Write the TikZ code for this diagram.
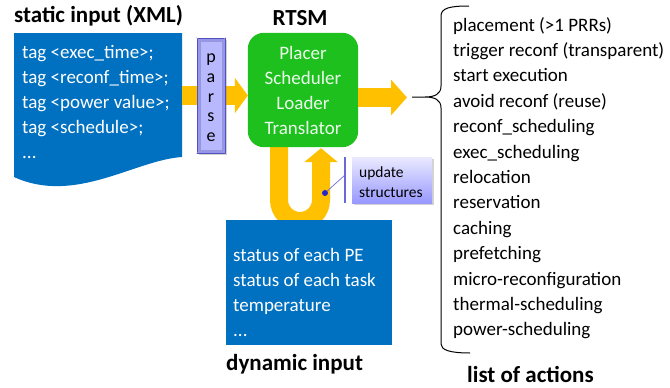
\documentclass[tikz,border=0pt]{standalone}
\usepackage{fontspec}
\setmainfont{Carlito}
\usetikzlibrary{arrows.meta,shadows,calc}
\definecolor{xmlblue}{RGB}{0,112,192}
\definecolor{flowyellow}{RGB}{255,192,0}
\definecolor{rtsmgreen}{RGB}{30,192,30}
\definecolor{rtsmtext}{RGB}{236,252,236}
\definecolor{lavlight}{RGB}{234,234,255}
\definecolor{lavdark}{RGB}{152,152,255}
\definecolor{lavmid}{RGB}{150,150,235}
\definecolor{lavinner}{RGB}{184,184,255}
\definecolor{lavedge}{RGB}{80,80,190}
\definecolor{calloutline}{RGB}{105,105,220}
\definecolor{calloutdot}{RGB}{40,40,200}
\begin{document}
\begin{tikzpicture}[x=1pt,y=-1pt,
  body/.style={font=\fontsize{19}{25}\selectfont, inner sep=0pt, anchor=base west},
  wline/.style={body, text=white},
  gline/.style={body, text=rtsmtext, anchor=base},
  ttl/.style={font=\fontsize{23}{28}\selectfont\bfseries, inner sep=0pt, anchor=base west},
  rtsmslot/.style={minimum width=110pt, minimum height=114pt, inner sep=0pt},
  dynbox/.style={fill=xmlblue, minimum width=166pt, minimum height=125pt, inner sep=0pt},
  parsebox/.style={fill=lavmid, draw=lavedge, line width=0.8pt, minimum width=28pt,
    minimum height=115pt, inner sep=0pt,
    drop shadow={opacity=0.35, shadow xshift=1.5pt, shadow yshift=-1.5pt}},
  updbox/.style={top color=lavlight, bottom color=lavdark, minimum width=80pt,
    minimum height=46pt, inner sep=0pt,
    drop shadow={opacity=0.35, shadow xshift=2pt, shadow yshift=-2pt}},
  brace/.style={draw=black, line width=1pt}
]
\useasboundingbox (0,0) rectangle (670,388);

% static input: document shape with a wavy lower edge
\coordinate (sNW) at (14,33);
\coordinate (sNE) at (182,33);
\coordinate (sSE) at (182,157);
\coordinate (sSW) at (14,177);
\coordinate (sOut) at (182,95.5);
\fill[xmlblue] (sNW) -- (sNE) -- (sSE)
  .. controls (135,160) and (75,205) .. (sSW) -- cycle;
\node[ttl] (stitle) at (14,22) {static input (XML)};
\node[wline] (s1) at (22,58) {tag <exec\_time>;};
\node[wline] (s2) at (22,83) {tag <reconf\_time>;};
\node[wline] (s3) at (22,108) {tag <power value>;};
\node[wline] (s4) at (22,133) {tag <schedule>;};
\node[wline] (s5) at (22,158) {...};

% RTSM block: its place first, so that the loop can run beneath it
\node[rtsmslot] (rtsm) at (303,90) {};
\node[ttl, anchor=base] (rtitle) at (300,25) {RTSM};

% feedback loop between RTSM and the dynamic input
\draw[draw=flowyellow, line width=18pt, -{Triangle[length=14pt,width=33pt]}]
  ([xshift=-24pt,yshift=4pt]rtsm.south) -- (279,200)
  arc[start angle=180, end angle=0, radius=21] -- ([xshift=18pt,yshift=-1pt]rtsm.south);

\fill[rtsmgreen, rounded corners=16pt] (rtsm.north west) rectangle (rtsm.south east);
\node[gline] (r1) at (303,59) {Placer};
\node[gline] (r2) at (303,84) {Scheduler};
\node[gline] (r3) at (303,109) {Loader};
\node[gline] (r4) at (303,134) {Translator};

% flow arrows
\coordinate (aTip) at (407,97.5);
\draw[draw=flowyellow, line width=19pt, -{Triangle[length=13pt,width=35pt]}]
  (sOut) -- ([yshift=-5.5pt]rtsm.west);
\draw[draw=flowyellow, line width=19pt, -{Triangle[length=16pt,width=35pt]}]
  ([yshift=-7.5pt]rtsm.east) -- (aTip);

% parse bar
\node[parsebox] (parse) at (211,95.5) {};
\coordinate (pNW) at ([shift={(3.5,3.5)}]parse.north west);
\coordinate (pSE) at ([shift={(-3.5,-3.5)}]parse.south east);
\coordinate (pNE) at ([shift={(-3.5,3.5)}]parse.north east);
\coordinate (pSW) at ([shift={(3.5,-3.5)}]parse.south west);
\fill[lavinner] (pNW) rectangle (pSE);
\draw[lavedge!60, line width=0.5pt] (pNW) rectangle (pSE);
\draw[lavedge!60, line width=0.5pt] (parse.north west) -- (pNW)
  (parse.north east) -- (pNE) (parse.south west) -- (pSW) (parse.south east) -- (pSE);
\node[font=\fontsize{18}{20}\selectfont, inner sep=0pt, anchor=base] (p1) at (211,62.5) {p};
\node[font=\fontsize{18}{20}\selectfont, inner sep=0pt, anchor=base] (p2) at (211,82.25) {a};
\node[font=\fontsize{18}{20}\selectfont, inner sep=0pt, anchor=base] (p3) at (211,102) {r};
\node[font=\fontsize{18}{20}\selectfont, inner sep=0pt, anchor=base] (p4) at (211,121.75) {s};
\node[font=\fontsize{18}{20}\selectfont, inner sep=0pt, anchor=base] (p5) at (211,141.5) {e};

% dynamic input
\node[dynbox] (dyn) at (309,282.5) {};
\node[wline] (d1) at (233,261) {status of each PE};
\node[wline] (d2) at (233,286) {status of each task};
\node[wline] (d3) at (233,311) {temperature};
\node[wline] (d4) at (233,336) {...};
\node[ttl] (dtitle) at (226,370) {dynamic input};

% callout
\node[updbox] (upd) at (392,180) {};
\node[font=\fontsize{15.5}{20}\selectfont, inner sep=0pt, anchor=base west] (u1) at (359,177) {update};
\node[font=\fontsize{15.5}{20}\selectfont, inner sep=0pt, anchor=base west] (u2) at (359,197) {structures};
\coordinate (cTop) at (345,157);
\coordinate (cBot) at (345,203);
\coordinate (cMid) at (345,175);
\coordinate (cDot) at (325,193);
\draw[calloutline, line width=1.2pt] (cTop) -- (cBot);
\draw[calloutline, line width=0.7pt] (cMid) -- (cDot);
\fill[calloutdot] (cDot) circle[radius=3];

% brace and list of actions
\coordinate (bTip) at (412,97);
\draw[brace] (469,6) .. controls (450,6) and (441,8) .. (441,16) -- (441,86)
  .. controls (441,94) and (435,97) .. (425,97) -- (bTip)
  (425,97) .. controls (435,97) and (441,100) .. (441,108) -- (441,344)
  .. controls (441,350) and (450,353) .. (470,353);
\node[body] (a1) at (453,31) {placement (>1 PRRs)};
\node[body] (a2) at (453,56.4) {trigger reconf (transparent)};
\node[body] (a3) at (453,81.8) {start execution};
\node[body] (a4) at (453,107.2) {avoid reconf (reuse)};
\node[body] (a5) at (453,132.6) {reconf\_scheduling};
\node[body] (a6) at (453,158) {exec\_scheduling};
\node[body] (a7) at (453,183.4) {relocation};
\node[body] (a8) at (453,208.8) {reservation};
\node[body] (a9) at (453,234.2) {caching};
\node[body] (a10) at (453,259.6) {prefetching};
\node[body] (a11) at (453,285) {micro-reconfiguration};
\node[body] (a12) at (453,310.4) {thermal-scheduling};
\node[body] (a13) at (453,335.8) {power-scheduling};
\node[ttl] (atitle) at (467,382) {list of actions};
\end{tikzpicture}
\end{document}
